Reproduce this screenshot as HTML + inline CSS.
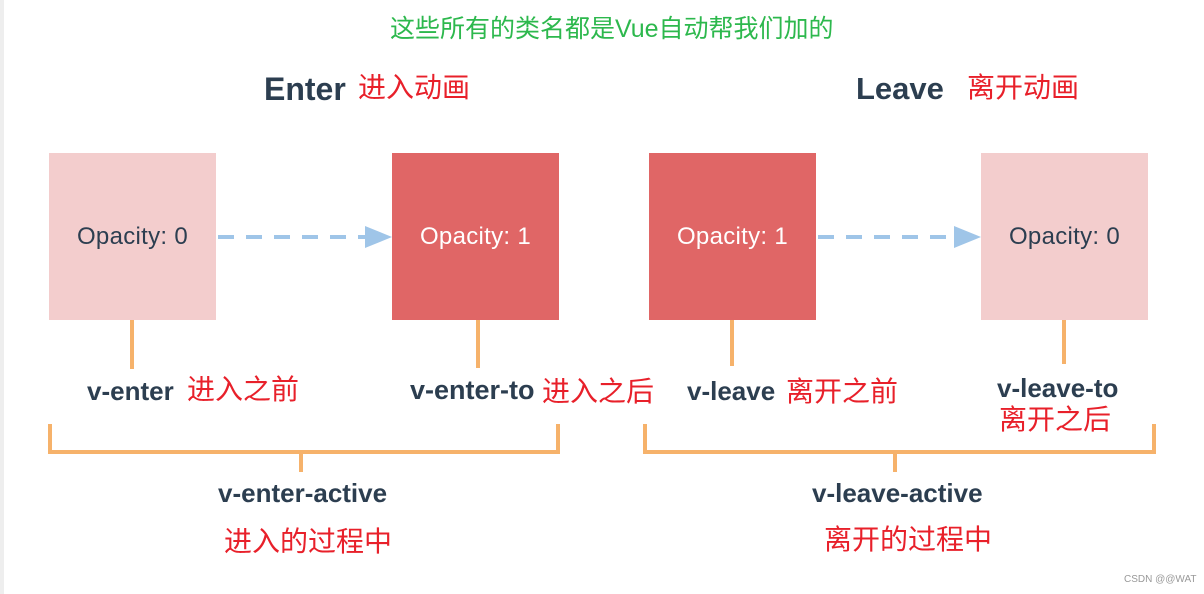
<!DOCTYPE html>
<html><head><meta charset="utf-8"><style>
html,body{margin:0;padding:0;background:#fff;}
body{width:1204px;height:594px;position:relative;overflow:hidden;font-family:"Liberation Sans","Noto Sans CJK SC",sans-serif;}
.t{position:absolute;white-space:nowrap;line-height:1;}
.b{font-weight:bold;color:#2c3e50;}
.r{color:#e8202a;font-size:28px;}
.box{position:absolute;width:167px;height:167px;top:153px;display:flex;align-items:center;justify-content:center;font-size:24px;letter-spacing:0.3px;}
.l{background:#f3cdcd;color:#2c3e50;}
.d{background:#e06666;color:#fff;}
.o{position:absolute;background:#f6b26b;}
</style></head><body>
<div style="position:absolute;left:0;top:0;width:4px;height:594px;background:#eeeeee"></div>
<div class="t" style="left:390px;top:17px;font-size:25px;color:#2db84d">这些所有的类名都是Vue自动帮我们加的</div>
<div class="t b" style="left:264px;top:73px;font-size:32px">Enter</div>
<div class="t r" style="left:358px;top:74px">进入动画</div>
<div class="t b" style="left:856px;top:73px;font-size:31px">Leave</div>
<div class="t r" style="left:967px;top:74px">离开动画</div>

<div class="box l" style="left:49px">Opacity: 0</div>
<div class="box d" style="left:392px">Opacity: 1</div>
<div class="box d" style="left:649px">Opacity: 1</div>
<div class="box l" style="left:981px">Opacity: 0</div>

<svg style="position:absolute;left:0;top:0" width="1204" height="594">
<line x1="218" y1="237" x2="366" y2="237" stroke="#9fc5e8" stroke-width="4" stroke-dasharray="16,12"/>
<polygon points="365,226 392,237 365,248" fill="#9fc5e8"/>
<line x1="818" y1="237" x2="955" y2="237" stroke="#9fc5e8" stroke-width="4" stroke-dasharray="16,12"/>
<polygon points="954,226 981,237 954,248" fill="#9fc5e8"/>
</svg>

<div class="o" style="left:130px;top:320px;width:4px;height:49px"></div>
<div class="o" style="left:476px;top:320px;width:4px;height:48px"></div>
<div class="o" style="left:730px;top:320px;width:4px;height:46px"></div>
<div class="o" style="left:1062px;top:320px;width:4px;height:44px"></div>

<div class="o" style="left:48px;top:424px;width:4px;height:30px"></div>
<div class="o" style="left:556px;top:424px;width:4px;height:30px"></div>
<div class="o" style="left:48px;top:450px;width:512px;height:4px"></div>
<div class="o" style="left:299px;top:452px;width:4px;height:20px"></div>

<div class="o" style="left:643px;top:424px;width:4px;height:30px"></div>
<div class="o" style="left:1152px;top:424px;width:4px;height:30px"></div>
<div class="o" style="left:643px;top:450px;width:513px;height:4px"></div>
<div class="o" style="left:893px;top:452px;width:4px;height:20px"></div>

<div class="t b" style="left:87px;top:378px;font-size:26px">v-enter</div>
<div class="t r" style="left:187px;top:376px">进入之前</div>
<div class="t b" style="left:410px;top:377px;font-size:27px">v-enter-to</div>
<div class="t r" style="left:542px;top:378px">进入之后</div>
<div class="t b" style="left:687px;top:378px;font-size:26px">v-leave</div>
<div class="t r" style="left:786px;top:378px">离开之前</div>
<div class="t b" style="left:997px;top:375px;font-size:26px">v-leave-to</div>
<div class="t r" style="left:999px;top:406px">离开之后</div>

<div class="t b" style="left:218px;top:480px;font-size:26px">v-enter-active</div>
<div class="t r" style="left:224px;top:528px">进入的过程中</div>
<div class="t b" style="left:812px;top:480px;font-size:26px">v-leave-active</div>
<div class="t r" style="left:824px;top:526px">离开的过程中</div>

<div class="t" style="left:1124px;top:575px;font-size:10px;color:#999">CSDN @@WAT</div>
</body></html>
